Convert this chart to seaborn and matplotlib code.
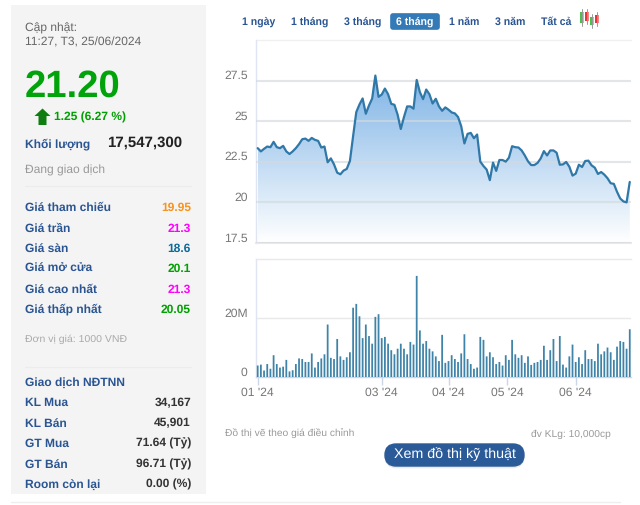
import numpy as np
import pandas as pd
import matplotlib
matplotlib.use("Agg")
import matplotlib.pyplot as plt
import seaborn as sns
from matplotlib.colors import LinearSegmentedColormap
from matplotlib.patches import FancyBboxPatch, Polygon, Rectangle
from matplotlib.transforms import ScaledTranslation

# Price per session (thousand VND), Jan 2024 to 25 Jun 2024
price = [23.34, 23.14, 23.30, 23.44, 23.40, 23.73, 23.40, 23.34, 23.48, 23.14,
         22.98, 23.14, 23.34, 23.59, 23.89, 23.93, 23.79, 23.97, 23.85, 23.79,
         23.38, 23.44, 22.47, 22.71, 22.34, 21.83, 21.73, 21.96, 22.06, 22.55,
         24.08, 25.56, 26.03, 26.40, 25.46, 25.97, 26.40, 27.81, 26.50, 26.64,
         27.01, 26.66, 26.07, 26.01, 25.40, 24.52, 25.26, 25.91, 25.91, 25.77,
         27.54, 26.79, 26.36, 26.95, 26.66, 26.09, 26.38, 25.91, 25.64, 25.85,
         25.71, 25.54, 25.48, 25.26, 24.69, 23.63, 24.22, 24.28, 23.95, 24.18,
         22.51, 22.24, 22.02, 21.37, 22.45, 21.94, 22.61, 22.61, 22.51, 22.75,
         23.46, 23.40, 23.38, 23.20, 22.89, 22.53, 22.30, 22.30, 22.43, 22.71,
         23.16, 22.89, 23.20, 23.20, 23.06, 22.32, 22.34, 22.49, 22.20, 21.65,
         21.77, 22.32, 22.18, 22.55, 22.57, 22.28, 22.14, 21.75, 21.87, 21.71,
         21.49, 21.18, 21.14, 20.65, 20.24, 20.06, 20.00, 21.26]

# Volume per session, millions
volume = [4.0, 4.3, 2.3, 4.5, 2.9, 7.5, 4.5, 3.3, 3.6, 5.9,
          2.0, 2.4, 4.5, 6.4, 6.2, 5.2, 5.2, 8.1, 3.3, 5.2,
          6.4, 7.8, 17.9, 6.6, 6.2, 13.0, 7.1, 5.9, 6.8, 8.5,
          23.6, 24.9, 20.7, 13.3, 17.9, 14.0, 11.4, 20.5, 21.4, 13.3,
          13.7, 11.4, 9.2, 7.8, 9.7, 11.4, 9.7, 7.8, 12.0, 11.1,
          34.4, 15.9, 11.4, 12.3, 9.7, 8.8, 7.1, 5.5, 14.4, 4.9,
          5.5, 7.5, 6.2, 5.2, 8.1, 14.6, 6.2, 4.5, 2.9, 3.3,
          13.7, 12.7, 7.1, 8.5, 6.8, 4.5, 5.2, 4.0, 7.5, 5.9,
          12.7, 7.8, 6.6, 7.5, 4.9, 7.1, 4.2, 4.9, 5.2, 5.9,
          10.7, 5.9, 9.2, 13.0, 5.5, 14.0, 4.3, 3.3, 7.1, 11.1,
          5.2, 6.8, 4.5, 9.2, 6.2, 6.2, 5.5, 11.4, 7.8, 8.8,
          10.1, 8.5, 5.9, 10.4, 12.3, 12.0, 9.7, 16.3]

month_pos = [0, 39, 60, 78.5, 100]
month_labels = ["01 '24", "03 '24", "04 '24", "05 '24", "06 '24"]
price_ticks = [17.5, 20, 22.5, 25, 27.5]
price_tick_labels = ["17.5", "20", "22.5", "25", "27.5"]
volume_ticks = [0, 20]
volume_tick_labels = ["0", "20M"]
ranges = ["1 ngày", "1 tháng", "3 tháng", "6 tháng", "1 năm", "3 năm", "Tất cả"]
range_x = [242, 291, 344, 396, 449, 495, 541]
quote_rows = [("Giá tham chiếu", "19.95", "#f7941d"), ("Giá trần", "21.3", "#ff00ff"),
              ("Giá sàn", "18.6", "#0b6a9a"), ("Giá mở cửa", "20.1", "#00a000"),
              ("Giá cao nhất", "21.3", "#ff00ff"), ("Giá thấp nhất", "20.05", "#00a000")]
foreign_rows = [("KL Mua", "34,167"), ("KL Bán", "45,901"), ("GT Mua", "71.64 (Tỷ)"),
                ("GT Bán", "96.71 (Tỷ)"), ("Room còn lại", "0.00 (%)")]

W, H = 640, 505
BLUE = "#2a5592"
GRID = "#e9e9e9"
AXIS = "#dfe5f2"
TICK = "#777777"


def px_axes(fig, left, top, right, bottom):
    return fig.add_axes([left / W, 1 - bottom / H, (right - left) / W, (bottom - top) / H])


def nudge_down(ax):
    # tick labels sit just above their gridlines
    for t in ax.get_yticklabels():
        t.set_verticalalignment("bottom")
        t.set_transform(t.get_transform() + ScaledTranslation(0, -1 / 100, fig.dpi_scale_trans))


sns.set_theme(style="white")
plt.rcParams["font.family"] = ["Liberation Sans", "DejaVu Sans"]
plt.rcParams["text.hinting"] = "no_hinting"

fig = plt.figure(figsize=(W / 100, H / 100), dpi=100, facecolor="white")

# page layer in pixel coordinates
bg = fig.add_axes([0, 0, 1, 1])
bg.set_xlim(0, W)
bg.set_ylim(H, 0)
bg.axis("off")
bg.add_patch(Rectangle((11, 5), 195, 489, color="#f4f4f4", lw=0))
bg.plot([11, 620], [502, 502], color="#eeeeee", lw=1)
bg.plot([25, 191], [186, 186], color="#ececec", lw=0.8)
bg.plot([25, 191], [367, 367], color="#ececec", lw=0.8)

bg.text(25, 31.5, "Cập nhật:", fontsize=8.65, color="#666666", va="baseline")
bg.text(25, 45.5, "11:27, T3, 25/06/2024", fontsize=8.65, color="#666666", va="baseline")
bg.text(25, 86.5, "21.20", fontsize=27.5, color="#00a30a", fontweight="bold", va="center")
bg.add_patch(Polygon([[42.5, 108.5], [50.5, 116], [46.5, 116], [46.5, 125], [38.5, 125],
                      [38.5, 116], [34.5, 116]], color="#0f7d12", lw=0))
bg.text(54, 121, "1.25 (6.27 %)", fontsize=8.65, color="#00a000", fontweight="bold", va="baseline")
bg.text(25, 147, "Khối lượng", fontsize=8.65, color=BLUE, fontweight="bold", va="baseline")
bg.text(107, 146.5, "17,547,300", fontsize=10.8, color="#222222", fontweight="bold", va="baseline")
bg.text(25, 174, "Đang giao dịch", fontsize=8.65, color="#999999", va="baseline")

for i, (name, val, col) in enumerate(quote_rows):
    y = 211 + i * 20.4
    bg.text(25, y, name, fontsize=8.65, color=BLUE, fontweight="bold", va="baseline")
    bg.text(191, y, val, fontsize=8.65, color=col, fontweight="bold", va="baseline", ha="right")
bg.text(25, 342, "Đơn vị giá: 1000 VNĐ", fontsize=7.55, color="#aaaaaa", va="baseline")
bg.text(25, 385.5, "Giao dịch NĐTNN", fontsize=8.65, color=BLUE, fontweight="bold", va="baseline")
for i, (name, val) in enumerate(foreign_rows):
    y = 406 + i * 20.5
    bg.text(25, y, name, fontsize=8.65, color=BLUE, fontweight="bold", va="baseline")
    bg.text(191, y, val, fontsize=8.65, color="#333333", fontweight="bold", va="baseline", ha="right")

# range selector
bg.add_patch(FancyBboxPatch((391, 14), 48, 15, boxstyle="round,pad=0,rounding_size=2",
                            fc="#337ab7", ec="#337ab7", lw=1.2))
for lab, x in zip(ranges, range_x):
    bg.text(x, 25, lab, fontsize=7.6, color="white" if lab == "6 tháng" else BLUE,
            fontweight="bold", va="baseline")
# candlestick icon
for x, y0, y1, c in [(580, 12, 23, "#4cc04c"), (585, 12, 21, "#e8353a"),
                     (590, 17, 25, "#4cc04c"), (595, 15, 23, "#e8353a")]:
    bg.plot([x + 1.7, x + 1.7], [y0 - 3, y1 + 3], color="#999999", lw=0.7)
    bg.add_patch(Rectangle((x, y0), 3.6, y1 - y0, color=c, lw=0, snap=False))

bg.text(225, 437, "Đồ thị vẽ theo giá điều chỉnh", fontsize=7.4, color="#999999", va="baseline")
bg.text(611, 437, "đv KLg: 10,000cp", fontsize=7.4, color="#999999", va="baseline", ha="right")
bg.add_patch(FancyBboxPatch((386, 446), 137, 21, boxstyle="round,pad=0,rounding_size=10.5",
                            fc="#dddddd", ec="#dddddd", lw=2, alpha=0.6))
bg.add_patch(FancyBboxPatch((385, 444), 139, 22, boxstyle="round,pad=0,rounding_size=11",
                            fc="#2a5a98", ec="#2a5a98", lw=1))
bg.text(454.5, 454.5, "Xem đồ thị kỹ thuật", fontsize=10.3, color="white", va="center", ha="center")

# shared x range: first session at 257.7 px, 3.18 px per session
days = np.arange(len(price))
xlim = ((256 - 257.7) / 3.18, (631 - 257.7) / 3.18)

# price panel
ax = px_axes(fig, 256, 40, 631, 243)
ax.patch.set_alpha(0)
sns.lineplot(x=days, y=price, color="#2f78a8", linewidth=1.6, ax=ax, zorder=4)
cmap = LinearSegmentedColormap.from_list("fade", ["#ffffff", "#7fb4e6"])
grad = ax.imshow(np.linspace(0, 1, 200).reshape(-1, 1), origin="lower", aspect="auto", cmap=cmap,
                 extent=[days[0], days[-1], 17.5, max(price)], zorder=1)
area = ax.fill_between(days, price, 17.5, color="none")
grad.set_clip_path(area.get_paths()[0], transform=ax.transData)
ax.set_xlim(xlim)
ax.set_ylim(17.5, 30)
ax.set_yticks(price_ticks, price_tick_labels)
ax.set_xticks([])
ax.yaxis.grid(True, color="#d5d9de", lw=1.5, alpha=0.65, zorder=2)
ax.set_axisbelow(False)
ax.tick_params(axis="y", length=0, pad=6, labelsize=8.7, labelcolor=TICK)
nudge_down(ax)
for s in ["top", "right"]:
    ax.spines[s].set_visible(False)
ax.spines["left"].set_color(AXIS)
ax.spines["bottom"].set_color(GRID)
ax.spines["left"].set_linewidth(1)
ax.spines["bottom"].set_linewidth(1.5)
ax.plot([0, 1], [1, 1], transform=ax.transAxes, color="#f0f0f0", lw=1, clip_on=False)

# volume panel
ax2 = px_axes(fig, 256, 258.5, 631, 377.3)
ax2.patch.set_alpha(0)
vol_df = pd.DataFrame({"day": days, "volume": volume})
sns.barplot(data=vol_df, x="day", y="volume", native_scale=True, color="#3f84a8",
            width=0.56, saturation=1, ax=ax2, zorder=3)
for bar in ax2.patches:
    bar.set_snap(False)
    bar.set_linewidth(0)
ax2.set_xlim(xlim)
ax2.set_ylim(0, 40.3)
ax2.set_xlabel("")
ax2.set_ylabel("")
ax2.set_yticks(volume_ticks, volume_tick_labels)
ax2.set_xticks(month_pos, month_labels)
ax2.yaxis.grid(True, color=GRID, lw=1, zorder=0)
ax2.tick_params(axis="y", length=0, pad=6, labelsize=8.7, labelcolor=TICK)
ax2.tick_params(axis="x", length=6, width=1, color="#ccd6eb", pad=1, labelsize=8.7, labelcolor=TICK, bottom=True)
nudge_down(ax2)
ax2.spines["right"].set_visible(False)
ax2.spines["top"].set_color(GRID)
ax2.spines["left"].set_color(AXIS)
ax2.spines["bottom"].set_color("#ccd6eb")
ax2.spines["top"].set_linewidth(1)
ax2.spines["left"].set_linewidth(1)
ax2.spines["bottom"].set_linewidth(1)

fig.savefig("out.png", dpi=100)
